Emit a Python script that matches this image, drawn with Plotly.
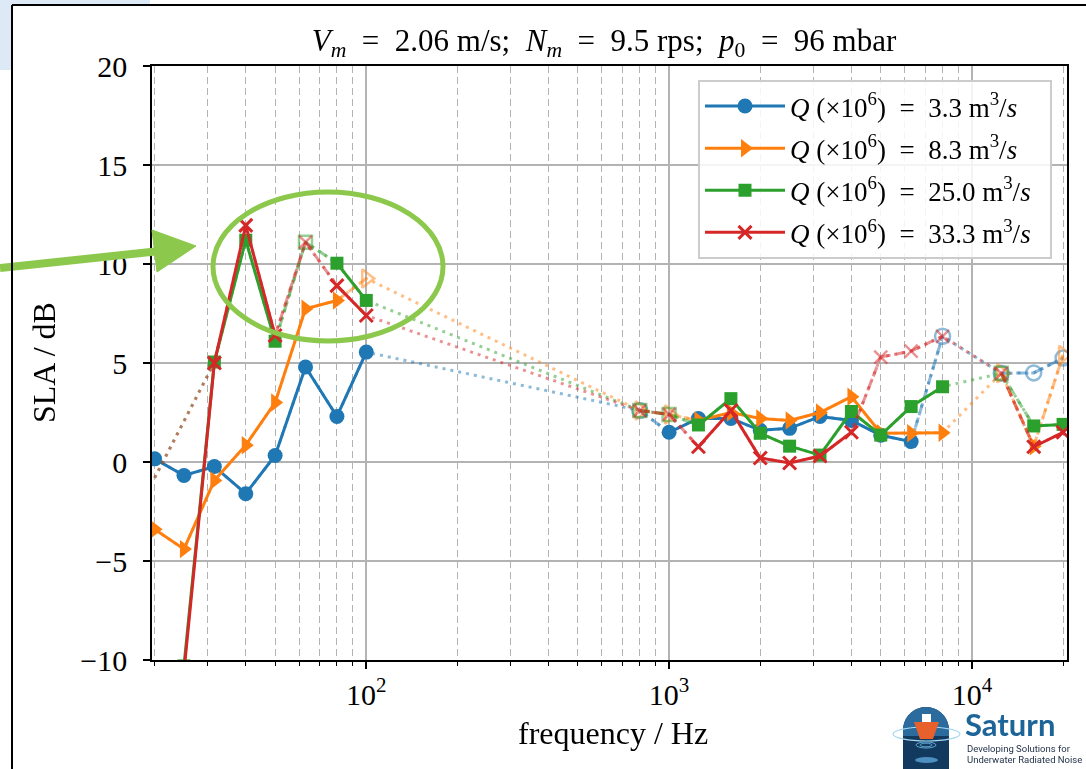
import math
import plotly.graph_objects as go

# ---------------- data ----------------
bands = [20, 25, 31.5, 40, 50, 63, 80, 100, 125, 160, 200, 250, 315, 400, 500, 630,
         800, 1000, 1250, 1600, 2000, 2500, 3150, 4000, 5000, 6300, 8000, 10000,
         12500, 16000, 20000]

N = None
sla_q33 = [0.16, -0.68, -0.23, -1.6, 0.33, 4.8, 2.3, 5.55, N, N, N, N, N, N, N, N,
           2.6, 1.5, 2.2, 2.2, 1.6, 1.7, 2.3, 2.1, 1.35, 1.03, 6.35, N, 4.48, 4.5, 5.25]
sla_q83 = [-3.4, -4.4, -0.93, 0.85, 3.0, 7.74, 8.16, 9.27, N, N, N, N, N, N, N, N,
           2.6, 2.4, 2.1, 2.5, 2.2, 2.1, 2.5, 3.3, 1.45, 1.45, 1.48, N, 4.48, 0.8, 5.4]
sla_q250 = [-0.8, -10.3, 5.05, 11.2, 6.1, 11.1, 10.04, 8.16, N, N, N, N, N, N, N, N,
            2.6, 2.4, 1.87, 3.2, 1.45, 0.8, 0.35, 2.55, 1.36, 2.8, 3.8, N, 4.48, 1.82, 1.9]
sla_q333 = [-0.8, -10.6, 5.0, 11.95, 6.39, 11.1, 8.91, 7.4, N, N, N, N, N, N, N, N,
            2.6, 2.4, 0.77, 2.6, 0.2, -0.05, 0.3, 1.5, 5.3, 5.6, 6.35, N, 4.48, 0.77, 1.5]

# bands where the level is background-limited (hollow, faded markers)
bg_q33 = [800, 8000, 12500, 16000, 20000]
bg_q83 = [100, 800, 1000, 12500, 20000]
bg_q250 = [63, 800, 1000, 12500]
bg_q333 = [63, 800, 1000, 5000, 6300, 8000, 12500]
# bands only used for the dotted trend line (no marker)
ref_q33 = []
ref_q83 = []
ref_q250 = [20]
ref_q333 = [20]

labels = ["3.3", "8.3", "25.0", "33.3"]
colors = ["#1f77b4", "#ff7f0e", "#2ca02c", "#d62728"]

EN = "\u2002"
title_text = (f"<i>V</i><sub><i>m</i></sub>{EN}={EN}2.06 m/s;{EN}<i>N</i><sub><i>m</i></sub>{EN}={EN}9.5 rps;{EN}"
              f"<i>p</i><sub>0</sub>{EN}={EN}96 mbar")
xtick_vals = [100, 1000, 10000]
xtick_text = ["10<sup>2</sup>", "10<sup>3</sup>", "10<sup>4</sup>"]
ytick_vals = [-10, -5, 0, 5, 10, 15, 20]
ytick_text = ["\u221210", "\u22125", "0", "5", "10", "15", "20"]

Y_MIN, Y_MAX = -10, 20

# ---------------- layout geometry (pixels) ----------------
W, H = 1086, 769
L, R, T, B = 152, 1067, 66, 660


def px(x):
    return (x - L) / (R - L)


def py(y):
    return (B - y) / (B - T)


FONT = "Liberation Serif"

fig = go.Figure()

series = [
    (sla_q33, bg_q33, ref_q33, "circle", "circle-open", 15),
    (sla_q83, bg_q83, ref_q83, "triangle-right", "triangle-right-open", 16),
    (sla_q250, bg_q250, ref_q250, "square", "square-open", 13),
    (sla_q333, bg_q333, ref_q333, "x-thin", "x-thin-open", 13),
]

for (vals, bg, ref, sym, osym, msize), lab, col in zip(series, labels, colors):
    state = []
    for f, v in zip(bands, vals):
        if v is None:
            state.append("")
        elif f in ref:
            state.append("r")
        elif f in bg:
            state.append("b")
        else:
            state.append("v")
    # dotted trend through every on-scale point
    dx = [f for f, v in zip(bands, vals) if v is not None and v >= Y_MIN]
    dy = [v for v in vals if v is not None and v >= Y_MIN]
    fig.add_trace(go.Scatter(x=dx, y=dy, mode="lines", opacity=0.5, showlegend=False,
                             line=dict(color=col, width=3, dash="3px,5px"), hoverinfo="skip"))
    # dashed faded links to background-limited points
    sx, sy = [], []
    for i in range(len(bands) - 1):
        a, b = state[i], state[i + 1]
        if a in ("v", "b") and b in ("v", "b") and "b" in (a, b):
            sx += [bands[i], bands[i + 1], None]
            sy += [vals[i], vals[i + 1], None]
    if sx:
        fig.add_trace(go.Scatter(x=sx, y=sy, mode="lines", opacity=0.5, showlegend=False,
                                 line=dict(color=col, width=3, dash="10px,5px"), hoverinfo="skip"))
    # hollow faded markers
    fx = [f for f, s in zip(bands, state) if s == "b"]
    fy = [v for v, s in zip(vals, state) if s == "b"]
    fig.add_trace(go.Scatter(x=fx, y=fy, mode="markers", opacity=0.5, showlegend=False,
                             marker=dict(symbol=osym, size=msize, color=col,
                                         line=dict(color=col, width=2.5))))
    # solid valid data
    vy = [v if s == "v" else None for v, s in zip(vals, state)]
    mline = dict(color=col, width=3) if sym == "x-thin" else dict(width=0)
    fig.add_trace(go.Scatter(
        x=bands, y=vy, mode="lines+markers", connectgaps=False,
        name=f"<i>Q</i> (\u00d710<sup>6</sup>){EN}={EN}{lab} m<sup>3</sup>/<i>s</i>{EN}",
        legendgroup=lab,
        line=dict(color=col, width=3),
        marker=dict(symbol=sym, size=msize, color=col, line=mline)))

grid = "#b3b3b3"
fig.update_layout(
    width=W, height=H,
    margin=dict(l=L, r=W - R, t=T, b=H - B),
    paper_bgcolor="white", plot_bgcolor="white",
    font=dict(family=FONT, size=28, color="black"),
    title=dict(text=title_text, x=px(604), xref="paper", xanchor="center",
               y=1 - 40 / H, yanchor="middle",
               font=dict(family=FONT, size=31, color="black")),
    showlegend=True,
    legend=dict(x=px(1052), y=py(80), xanchor="right", yanchor="top",
                bgcolor="rgba(255,255,255,0.85)", bordercolor="#cccccc", borderwidth=2,
                font=dict(family=FONT, size=27), itemwidth=80, tracegroupgap=4),
    xaxis=dict(type="log", range=[1.2924, 4.314], showline=True, linecolor="black",
               linewidth=1.5, mirror=True, ticks="outside", ticklen=7, tickwidth=1.5,
               tickcolor="black", tickvals=xtick_vals, ticktext=xtick_text,
               tickfont=dict(family=FONT, size=30), showgrid=True, gridcolor=grid,
               gridwidth=1.5, zeroline=False,
               minor=dict(dtick="D1", ticks="outside", ticklen=4, tickwidth=1.2,
                          tickcolor="black", showgrid=True, gridcolor=grid, gridwidth=1.4,
                          griddash="7px,4px")),
    yaxis=dict(range=[Y_MIN, Y_MAX], showline=True, linecolor="black", linewidth=1.5,
               mirror=True, ticks="outside", ticklen=7, tickwidth=1.5, tickcolor="black",
               tickvals=ytick_vals, ticktext=ytick_text, tickfont=dict(family=FONT, size=30),
               showgrid=True, gridcolor=grid, gridwidth=1.5, zeroline=False,
               ticklabelstandoff=10),
)

# axis titles
fig.add_annotation(text="frequency / Hz", xref="paper", yref="paper", x=px(613), y=py(733),
                   showarrow=False, xanchor="center", yanchor="middle",
                   font=dict(family=FONT, size=32))
fig.add_annotation(text="SLA / dB", xref="paper", yref="paper", x=px(44), y=py(363),
                   showarrow=False, textangle=-90, xanchor="center", yanchor="middle",
                   font=dict(family=FONT, size=32))

shapes = []
GREEN = "#8cc84b"
# highlight ellipse
shapes.append(dict(type="circle", xref="paper", yref="paper", x0=px(213), x1=px(443),
                   y0=py(341), y1=py(192), line=dict(color=GREEN, width=5)))


def path(points):
    return "M " + " L ".join(f"{px(a):.5f},{py(b):.5f}" for a, b in points) + " Z"


# arrow shaft + head
shapes.append(dict(type="line", xref="paper", yref="paper", x0=px(0), y0=py(268),
                   x1=px(160), y1=py(251), line=dict(color=GREEN, width=8)))
shapes.append(dict(type="path", xref="paper", yref="paper",
                   path=path([(152, 230), (157, 272), (196, 246)]),
                   fillcolor=GREEN, line=dict(color=GREEN, width=1)))

# slide frame
shapes.append(dict(type="rect", xref="paper", yref="paper", x0=px(0), x1=px(12), y0=py(0),
                   y1=py(70), fillcolor="#dde9f6", line=dict(width=0), layer="below"))
shapes.append(dict(type="rect", xref="paper", yref="paper", x0=px(0), x1=px(150), y0=py(0),
                   y1=py(5), fillcolor="#dde9f6", line=dict(width=0), layer="below"))
shapes.append(dict(type="line", xref="paper", yref="paper", x0=px(12), x1=px(12), y0=py(5),
                   y1=py(769), line=dict(color="black", width=2)))
shapes.append(dict(type="line", xref="paper", yref="paper", x0=px(12), x1=px(1086), y0=py(5),
                   y1=py(5), line=dict(color="black", width=2)))

# Saturn logo (drawn)
cx, r = 926, 23
arc = [(cx + r * math.cos(math.pi - k * math.pi / 18),
        730 - r * math.sin(math.pi - k * math.pi / 18)) for k in range(19)]
shapes.append(dict(type="path", xref="paper", yref="paper",
                   path=path([(903, 769)] + arc + [(949, 769)]),
                   fillcolor="#123a5e", line=dict(width=0)))
shapes.append(dict(type="path", xref="paper", yref="paper",
                   path=path([(903, 736)] + arc + [(949, 736)]),
                   fillcolor="#2b6b9d", line=dict(width=0)))
shapes.append(dict(type="circle", xref="paper", yref="paper", x0=px(893), x1=px(960),
                   y0=py(741), y1=py(727), line=dict(color="#a8d8f2", width=1.2)))
shapes.append(dict(type="path", xref="paper", yref="paper",
                   path=path([(922, 722), (922, 714), (931, 714), (931, 722)]),
                   fillcolor="white", line=dict(width=0)))
shapes.append(dict(type="path", xref="paper", yref="paper",
                   path=path([(914, 722), (939, 722), (933, 739), (920, 739)]),
                   fillcolor="#e8612c", line=dict(width=0)))
for w in (6, 10):
    shapes.append(dict(type="circle", xref="paper", yref="paper", x0=px(926 - w), x1=px(926 + w),
                       y0=py(745 + w * 0.3), y1=py(745 - w * 0.3),
                       line=dict(color="#5fa3d0", width=1)))
shapes.append(dict(type="circle", xref="paper", yref="paper", x0=px(915), x1=px(938),
                   y0=py(763), y1=py(757), fillcolor="#4d8fbf", line=dict(width=0)))
fig.update_layout(shapes=shapes)

fig.add_annotation(text="<b>Saturn</b>", xref="paper", yref="paper", x=px(963), y=py(724),
                   showarrow=False, xanchor="left", yanchor="middle",
                   font=dict(family="Lato", size=31, color="#1d6598"))
fig.add_annotation(text="Developing Solutions for", xref="paper", yref="paper", x=px(965),
                   y=py(748), showarrow=False, xanchor="left", yanchor="middle",
                   font=dict(family="Roboto", size=9.5, color="#1e2d44"))
fig.add_annotation(text="Underwater Radiated Noise", xref="paper", yref="paper", x=px(965),
                   y=py(760), showarrow=False, xanchor="left", yanchor="middle",
                   font=dict(family="Roboto", size=9.5, color="#1e2d44"))

fig.write_html("out.html")
